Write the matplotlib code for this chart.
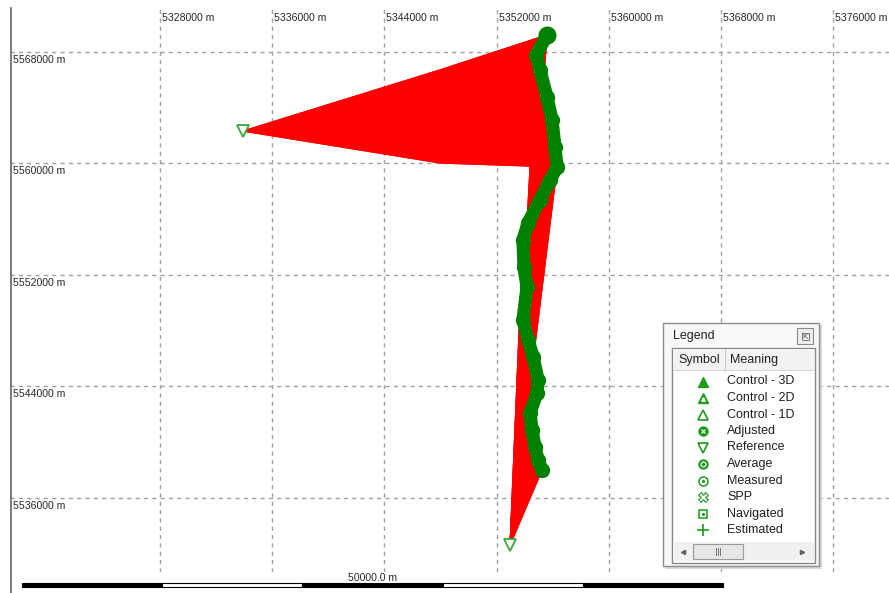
import matplotlib.pyplot as plt
from matplotlib.patches import Rectangle, Polygon
from matplotlib.lines import Line2D
from matplotlib.collections import PolyCollection

plt.rcParams['font.family'] = ['Liberation Sans', 'DejaVu Sans']

# grid ticks (easting / northing, metres)
x_ticks = [5328000, 5336000, 5344000, 5352000, 5360000, 5368000, 5376000]
y_ticks = [5536000, 5544000, 5552000, 5560000, 5568000]

# vessel track (measured positions)
track_e = [5355590, 5354810, 5355090, 5355590, 5355950, 5356160, 5356310,
           5355810, 5355090, 5354240, 5353880, 5353950, 5354170, 5353880,
           5354240, 5354600, 5354950, 5354880, 5354380, 5354520, 5354740,
           5354950, 5355240]
track_n = [5569220, 5567785, 5566710, 5564770, 5563120, 5561180, 5559750,
           5558820, 5557380, 5555730, 5554510, 5552570, 5551140, 5548770,
           5547340, 5546120, 5544470, 5543530, 5542100, 5540880, 5539660,
           5538730, 5538010]

# reference stations
ref_e = [5333920, 5352960]
ref_n = [5562330, 5532630]

# relay points on the links from the first reference to the upper track
via_e = [5347960] * 7
via_n = [5566710, 5565990, 5565420, 5564270, 5563120, 5561540, 5560040]

# scale bar
scale_start = 5318160
scale_seg = 10000
scale_count = 5
scale_label = '50000.0 m'

legend_labels = ['Control - 3D', 'Control - 2D', 'Control - 1D', 'Adjusted',
                 'Reference', 'Average', 'Measured', 'SPP', 'Navigated',
                 'Estimated']

RED = '#ff0000'
TRACK = '#008000'
SYM = '#1e9a1e'

fig = plt.figure(figsize=(8.89, 5.93), dpi=100)
ax = fig.add_axes([10 / 889, 21 / 593, 879 / 889, 564 / 593])
ax.set_xlim(5317305, 5379978)
ax.set_ylim(5530690, 5571157)

ax.set_xticks(x_ticks)
ax.set_yticks(y_ticks)
ax.tick_params(length=0, labelbottom=False, labelleft=False)
ax.grid(True, color='#a0a0a0', linestyle=(0, (3, 3)), linewidth=1)
for s in ax.spines.values():
    s.set_visible(False)

# tick labels drawn inside the plot area
for xv in x_ticks:
    ax.annotate(f'{xv} m', (xv, 1), xycoords=('data', 'axes fraction'),
                xytext=(2, -10), textcoords='offset pixels', ha='left',
                va='center', fontsize=7.6, color='#282828')
for yv in y_ticks:
    ax.annotate(f'{yv} m', (0, yv), xycoords=('axes fraction', 'data'),
                xytext=(3, -8), textcoords='offset pixels', ha='left',
                va='center', fontsize=7.6, color='#282828')

# links from the first reference to the upper part of the track
n_up = len(via_e)
upper = [(ref_e[0], ref_n[0])]
upper += [(via_e[0], via_n[0])]
upper += [(track_e[i], track_n[i]) for i in range(n_up)]
upper += [(via_e[-1], via_n[-1])]
ax.add_patch(Polygon(upper, closed=True, facecolor=RED, edgecolor=RED,
                     linewidth=0.8, zorder=2))
for i in range(n_up):
    ax.plot([ref_e[0], via_e[i], track_e[i]], [ref_n[0], via_n[i], track_n[i]],
            color=RED, lw=1, zorder=2)

# links from the second reference to every track position
tris = []
for i in range(len(track_e) - 1):
    tris.append([(ref_e[1], ref_n[1]), (track_e[i], track_n[i]),
                 (track_e[i + 1], track_n[i + 1])])
ax.add_collection(PolyCollection(tris, facecolor=RED, edgecolor=RED,
                                 linewidth=0.8, zorder=2))
for e, n in zip(track_e, track_n):
    ax.plot([ref_e[1], e], [ref_n[1], n], color=RED, lw=1, zorder=2)

# track
ax.plot(track_e, track_n, color=TRACK, lw=9.5, solid_capstyle='round',
        solid_joinstyle='round', zorder=3)
ax.plot(track_e, track_n, 'o', color=TRACK, ms=10, zorder=3)
ax.plot(track_e[0], track_n[0], 'o', color=TRACK, ms=12, zorder=3)

# reference markers
ax.plot(ref_e, ref_n, 'v', mfc='white', mec='#3aa63a', ms=8, mew=1.3,
        zorder=4)

# scale bar below the plot
bar_y0, bar_h = 5529614, 287
for k in range(scale_count):
    fc = 'black' if k % 2 == 0 else 'white'
    ax.add_patch(Rectangle((scale_start + k * scale_seg, bar_y0), scale_seg,
                           bar_h, facecolor=fc, edgecolor='black', lw=0.8,
                           clip_on=False, zorder=5))
ax.text(scale_start + scale_seg * scale_count / 2, 5530240, scale_label,
        ha='center', va='center', fontsize=7.6, color='#282828',
        clip_on=False)

# left border
fig.add_artist(Line2D([10.5 / 889, 10.5 / 889], [0, 1 - 8 / 593],
                      transform=fig.transFigure, color='#707070', lw=1.3))

# legend window
lg = fig.add_axes([663 / 889, 1 - 567 / 593, 157 / 889, 244 / 593])
lg.set_xlim(0, 157)
lg.set_ylim(244, 0)
lg.axis('off')
lg.add_patch(Rectangle((2, 2), 157, 244, facecolor='#d8d8d8', edgecolor='none',
                       clip_on=False))
lg.add_patch(Rectangle((0, 0), 156, 243, facecolor='#f8f8f8',
                       edgecolor='#8c8c8c', lw=1, clip_on=False))
lg.text(10, 13, 'Legend', fontsize=9, va='center', color='#202020')
lg.add_patch(Rectangle((134, 5), 16, 16, facecolor='#eeeeee',
                       edgecolor='#8a8a8a', lw=0.8))
lg.add_patch(Rectangle((138.5, 9.5), 7, 7, facecolor='none',
                       edgecolor='#777777', lw=0.7))
lg.plot([139.5, 144.5], [10.5, 15.5], color='#777777', lw=0.7)
lg.plot([139.5, 144.5], [15.5, 10.5], color='#777777', lw=0.7)

lg.add_patch(Rectangle((9, 25), 143, 215, facecolor='white',
                       edgecolor='#828790', lw=1))
lg.add_patch(Rectangle((10, 26), 141, 21, facecolor='#f2f2f2',
                       edgecolor='none'))
lg.plot([10, 151], [47, 47], color='#d5d5d5', lw=0.8)
lg.plot([62, 62], [26, 47], color='#c8c8c8', lw=0.8)
lg.text(15, 37, 'Symbol', fontsize=9, va='center', color='#202020')
lg.text(67, 37, 'Meaning', fontsize=9, va='center', color='#202020')

row_y0, row_dy, icon_x = 58.5, 16.5, 40
for i, lab in enumerate(legend_labels):
    y = row_y0 + row_dy * i
    lg.text(64, y, lab, fontsize=9, va='center', color='#202020')
    if lab == 'Control - 3D':
        lg.plot(icon_x, y, '^', color=SYM, ms=7)
    elif lab == 'Control - 2D':
        lg.plot(icon_x, y, '^', color=SYM, ms=7)
        lg.plot(icon_x, y + 0.8, '^', color='white', ms=2.5)
    elif lab == 'Control - 1D':
        lg.plot(icon_x, y, '^', mfc='white', mec=SYM, ms=6.5, mew=1.2)
    elif lab == 'Adjusted':
        lg.plot(icon_x, y, 'o', color=SYM, ms=6.5)
        lg.plot(icon_x, y, 'x', color='white', ms=3.5, mew=0.8)
    elif lab == 'Reference':
        lg.plot(icon_x, y, 'v', mfc='white', mec=SYM, ms=6.5, mew=1.2)
    elif lab == 'Average':
        lg.plot(icon_x, y, 'o', color=SYM, ms=6.5)
        lg.plot(icon_x, y, 'o', mfc='none', mec='white', ms=3.5, mew=0.8)
    elif lab == 'Measured':
        lg.plot(icon_x, y, 'o', mfc='white', mec=SYM, ms=6.5, mew=1.1)
        lg.plot(icon_x, y, '.', color=SYM, ms=2.5)
    elif lab == 'SPP':
        lg.plot(icon_x, y, 'X', mfc='white', mec=SYM, ms=6.5, mew=0.8)
    elif lab == 'Navigated':
        lg.plot(icon_x, y, 's', mfc='white', mec=SYM, ms=6, mew=1.1)
        lg.plot(icon_x, y, '.', color=SYM, ms=2.5)
    else:
        lg.plot(icon_x, y, '+', color=SYM, ms=8, mew=1.2)

# horizontal scroll bar
lg.add_patch(Rectangle((10, 219), 141, 19, facecolor='#f0f0f0',
                       edgecolor='none'))
lg.add_patch(Rectangle((30, 221), 50, 15, facecolor='#e6e6e6',
                       edgecolor='#9a9a9a', lw=0.8))
for dx in (-2, 0, 2):
    lg.plot([55 + dx, 55 + dx], [225, 232], color='#606060', lw=0.6)
lg.plot(20, 228.5, '<', color='#606060', ms=3)
lg.plot(139, 228.5, '>', color='#606060', ms=3)

fig.savefig('out.png', dpi=100)
